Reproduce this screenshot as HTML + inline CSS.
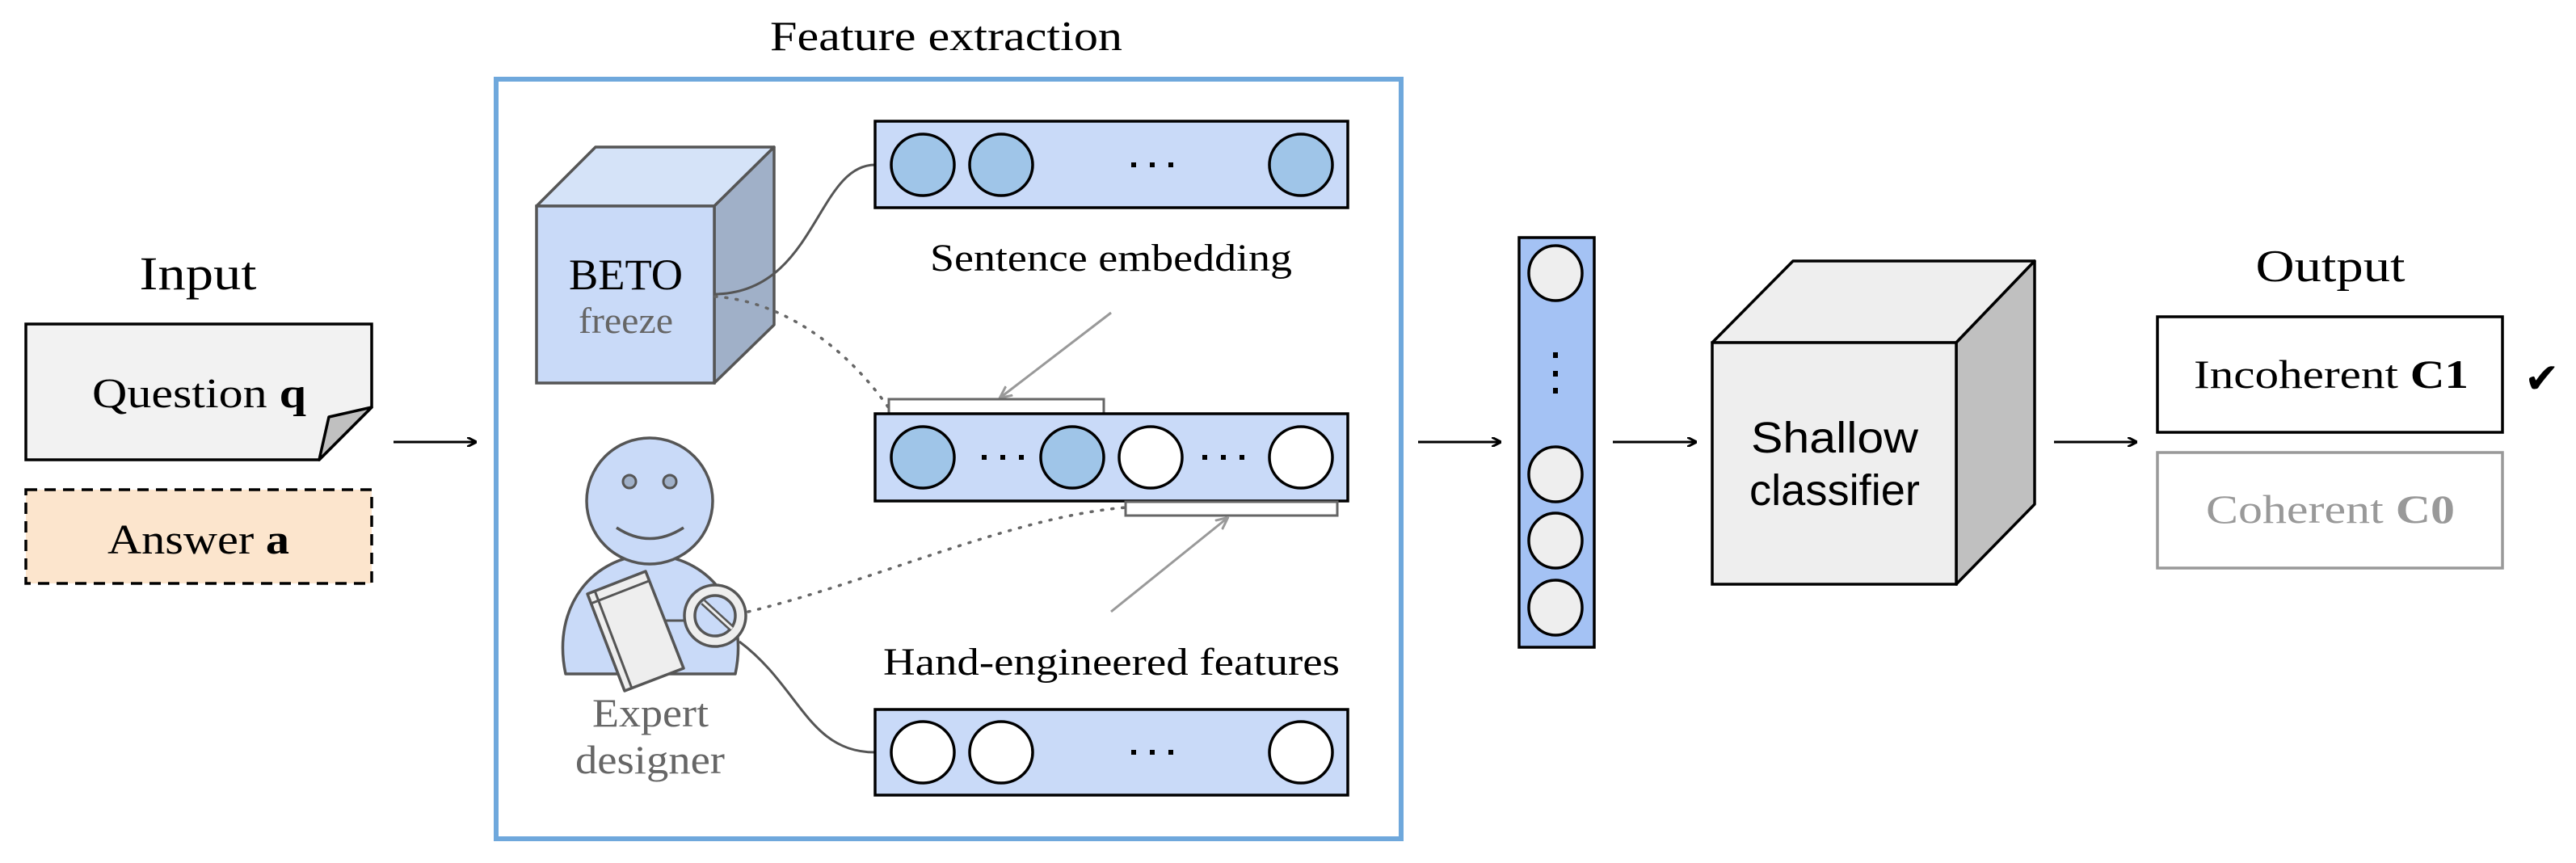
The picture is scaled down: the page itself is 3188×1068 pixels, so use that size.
<!DOCTYPE html>
<html><head><meta charset="utf-8"><style>
html,body{margin:0;padding:0;background:#fff;}
svg{display:block;}
text{font-family:"Liberation Serif",serif;}
</style></head><body>
<svg width="3188" height="1068" viewBox="0 0 3188 1068" xmlns="http://www.w3.org/2000/svg">
<defs>
<marker id="ah" markerWidth="12" markerHeight="12" refX="11" refY="6" orient="auto" markerUnits="userSpaceOnUse"><path d="M0,0 L12,6 L0,12" fill="none" stroke="#000" stroke-width="3"/></marker>
<marker id="ahg" markerWidth="16" markerHeight="16" refX="14" refY="8" orient="auto" markerUnits="userSpaceOnUse"><path d="M0,1 L15,8 L0,15" fill="none" stroke="#999" stroke-width="3"/></marker>
</defs>

<!-- Titles -->
<text x="1171" y="62" font-size="52" text-anchor="middle" textLength="436" lengthAdjust="spacingAndGlyphs">Feature extraction</text>
<text x="245" y="358" font-size="58" text-anchor="middle" textLength="145" lengthAdjust="spacingAndGlyphs">Input</text>
<text x="2884" y="348" font-size="56" text-anchor="middle" textLength="185" lengthAdjust="spacingAndGlyphs">Output</text>

<!-- Question -->
<path d="M32,401 L460,401 L460,504 L395,569 L32,569 Z" fill="#f2f2f2" stroke="#000" stroke-width="3.5"/>
<path d="M395,569 L407,516 L460,504 Z" fill="#c0c0c0" stroke="#000" stroke-width="3.5" stroke-linejoin="round"/>
<text x="114" y="504" font-size="52" textLength="265" lengthAdjust="spacingAndGlyphs">Question <tspan font-weight="bold">q</tspan></text>

<!-- Answer -->
<rect x="32" y="606" width="428" height="116" fill="#fce5cd" stroke="#000" stroke-width="3.5" stroke-dasharray="14,9"/>
<text x="133" y="685" font-size="52" textLength="225" lengthAdjust="spacingAndGlyphs">Answer <tspan font-weight="bold">a</tspan></text>

<!-- arrows -->
<line x1="487" y1="547" x2="589" y2="547" stroke="#000" stroke-width="3" marker-end="url(#ah)"/>
<line x1="1755" y1="547" x2="1857" y2="547" stroke="#000" stroke-width="3" marker-end="url(#ah)"/>
<line x1="1996" y1="547" x2="2099" y2="547" stroke="#000" stroke-width="3" marker-end="url(#ah)"/>
<line x1="2542" y1="547" x2="2644" y2="547" stroke="#000" stroke-width="3" marker-end="url(#ah)"/>

<!-- Feature box -->
<rect x="614" y="98" width="1120" height="940" fill="none" stroke="#6fa8dc" stroke-width="6"/>

<!-- BETO cube -->
<path d="M664,255 L737,182 L958,182 L884,255 Z" fill="#d5e3f8" stroke="#555" stroke-width="3.5" stroke-linejoin="round"/>
<path d="M884,255 L958,182 L958,402 L884,474 Z" fill="#a0b0c8" stroke="#555" stroke-width="3.5" stroke-linejoin="round"/>
<rect x="664" y="255" width="220" height="219" fill="#c9daf8" stroke="#555" stroke-width="3.5"/>
<text x="704" y="358" font-size="54" textLength="141" lengthAdjust="spacingAndGlyphs">BETO</text>
<text x="716" y="412" font-size="46" fill="#666" textLength="117" lengthAdjust="spacingAndGlyphs">freeze</text>

<!-- connectors -->
<path d="M885,364 C1010,362 1010,204 1083,204" fill="none" stroke="#555" stroke-width="3"/>
<path d="M885,367 C960,372 1040,420 1100,505" fill="none" stroke="#666" stroke-width="3.5" stroke-dasharray="2,11" stroke-linecap="round"/>
<path d="M926,757 C1080,720 1250,640 1393,628" fill="none" stroke="#666" stroke-width="3.5" stroke-dasharray="2,11" stroke-linecap="round"/>
<path d="M915,794 C990,850 1000,931 1083,931" fill="none" stroke="#555" stroke-width="3"/>

<!-- person -->
<path d="M700,834 C682,750 735,687 804,687 C875,687 928,750 910,834 Z" fill="#c9daf8" stroke="#555" stroke-width="3.5" stroke-linejoin="round"/>
<circle cx="804" cy="620" r="78" fill="#c9daf8" stroke="#555" stroke-width="3.5"/>
<circle cx="779" cy="596" r="8" fill="#a0b0c8" stroke="#555" stroke-width="3"/>
<circle cx="829" cy="596" r="8" fill="#a0b0c8" stroke="#555" stroke-width="3"/>
<path d="M763,653 Q804,680 846,653" fill="none" stroke="#555" stroke-width="3.5"/>
<path d="M727,735 L799,707 L846,827 L773,855 Z" fill="#eee" stroke="#555" stroke-width="3.5" stroke-linejoin="round"/>
<line x1="736" y1="731" x2="782" y2="852" stroke="#555" stroke-width="3"/>
<line x1="731" y1="747" x2="803" y2="719" stroke="#555" stroke-width="3"/>
<line x1="824" y1="768" x2="846" y2="768" stroke="#555" stroke-width="3"/>
<circle cx="885" cy="762" r="38" fill="#eee" stroke="#555" stroke-width="3.5"/>
<circle cx="885" cy="762" r="25" fill="#c9daf8" stroke="#555" stroke-width="3.5"/>
<line x1="870" y1="745" x2="906" y2="778" stroke="#555" stroke-width="8"/>
<line x1="870" y1="745" x2="906" y2="778" stroke="#eee" stroke-width="3"/>
<text x="733" y="899" font-size="50" fill="#666" textLength="144" lengthAdjust="spacingAndGlyphs">Expert</text>
<text x="712" y="957" font-size="50" fill="#666" textLength="185" lengthAdjust="spacingAndGlyphs">designer</text>

<!-- top bar -->
<rect x="1083" y="150" width="585" height="107" fill="#c9daf8" stroke="#000" stroke-width="3.5"/>
<ellipse cx="1142" cy="204" rx="39" ry="38" fill="#9fc5e8" stroke="#000" stroke-width="3.5"/>
<ellipse cx="1239" cy="204" rx="39" ry="38" fill="#9fc5e8" stroke="#000" stroke-width="3.5"/>
<ellipse cx="1610" cy="204" rx="39" ry="38" fill="#9fc5e8" stroke="#000" stroke-width="3.5"/>
<g fill="#000"><rect x="1400" y="201" width="6" height="6"/><rect x="1423" y="201" width="6" height="6"/><rect x="1446" y="201" width="6" height="6"/></g>

<text x="1151" y="335" font-size="48" textLength="448" lengthAdjust="spacingAndGlyphs">Sentence embedding</text>

<line x1="1375" y1="387" x2="1238" y2="492" stroke="#999" stroke-width="3" marker-end="url(#ahg)"/>
<rect x="1100" y="494" width="266" height="18" fill="#fff" stroke="#666" stroke-width="3"/>

<!-- middle bar -->
<rect x="1083" y="512" width="585" height="108" fill="#c9daf8" stroke="#000" stroke-width="3.5"/>
<ellipse cx="1142" cy="566" rx="39" ry="38" fill="#9fc5e8" stroke="#000" stroke-width="3.5"/>
<ellipse cx="1327" cy="566" rx="39" ry="38" fill="#9fc5e8" stroke="#000" stroke-width="3.5"/>
<ellipse cx="1424" cy="566" rx="39" ry="38" fill="#fff" stroke="#000" stroke-width="3.5"/>
<ellipse cx="1610" cy="566" rx="39" ry="38" fill="#fff" stroke="#000" stroke-width="3.5"/>
<g fill="#000"><rect x="1215" y="563" width="6" height="6"/><rect x="1238" y="563" width="6" height="6"/><rect x="1261" y="563" width="6" height="6"/>
<rect x="1488" y="563" width="6" height="6"/><rect x="1511" y="563" width="6" height="6"/><rect x="1534" y="563" width="6" height="6"/></g>
<rect x="1393" y="621" width="262" height="17" fill="#fff" stroke="#666" stroke-width="3"/>
<line x1="1375" y1="757" x2="1519" y2="641" stroke="#999" stroke-width="3" marker-end="url(#ahg)"/>

<text x="1093" y="835" font-size="48" textLength="565" lengthAdjust="spacingAndGlyphs">Hand-engineered features</text>

<!-- bottom bar -->
<rect x="1083" y="878" width="585" height="106" fill="#c9daf8" stroke="#000" stroke-width="3.5"/>
<ellipse cx="1142" cy="931" rx="39" ry="38" fill="#fff" stroke="#000" stroke-width="3.5"/>
<ellipse cx="1239" cy="931" rx="39" ry="38" fill="#fff" stroke="#000" stroke-width="3.5"/>
<ellipse cx="1610" cy="931" rx="39" ry="38" fill="#fff" stroke="#000" stroke-width="3.5"/>
<g fill="#000"><rect x="1400" y="928" width="6" height="6"/><rect x="1423" y="928" width="6" height="6"/><rect x="1446" y="928" width="6" height="6"/></g>

<!-- vector column -->
<rect x="1880" y="294" width="93" height="507" fill="#a4c2f4" stroke="#000" stroke-width="3.5"/>
<ellipse cx="1925" cy="338" rx="33" ry="34" fill="#eee" stroke="#000" stroke-width="3.5"/>
<ellipse cx="1925" cy="587" rx="33" ry="34" fill="#eee" stroke="#000" stroke-width="3.5"/>
<ellipse cx="1925" cy="669" rx="33" ry="34" fill="#eee" stroke="#000" stroke-width="3.5"/>
<ellipse cx="1925" cy="752" rx="33" ry="34" fill="#eee" stroke="#000" stroke-width="3.5"/>
<g fill="#000"><rect x="1922" y="436" width="6" height="7"/><rect x="1922" y="459" width="6" height="7"/><rect x="1922" y="480" width="6" height="7"/></g>

<!-- shallow cube -->
<path d="M2119,424 L2219,323 L2518,323 L2421,424 Z" fill="#eee" stroke="#000" stroke-width="3.5" stroke-linejoin="round"/>
<path d="M2421,424 L2518,323 L2518,624 L2421,723 Z" fill="#c0c0c0" stroke="#000" stroke-width="3.5" stroke-linejoin="round"/>
<rect x="2119" y="424" width="302" height="299" fill="#eee" stroke="#000" stroke-width="3.5"/>
<text x="2167" y="560" font-size="54" textLength="207" lengthAdjust="spacingAndGlyphs" style="font-family:'Liberation Sans',sans-serif">Shallow</text>
<text x="2165" y="625" font-size="54" textLength="211" lengthAdjust="spacingAndGlyphs" style="font-family:'Liberation Sans',sans-serif">classifier</text>

<!-- outputs -->
<rect x="2670" y="392" width="427" height="143" fill="#fff" stroke="#000" stroke-width="3.5"/>
<text x="2715" y="480" font-size="50" textLength="340" lengthAdjust="spacingAndGlyphs">Incoherent <tspan font-weight="bold">C1</tspan></text>
<text x="3124" y="486" font-size="52">✔</text>
<rect x="2670" y="560" width="427" height="143" fill="#fff" stroke="#999" stroke-width="3.5"/>
<text x="2730" y="647" font-size="50" fill="#999" textLength="308" lengthAdjust="spacingAndGlyphs">Coherent <tspan font-weight="bold">C0</tspan></text>
</svg>
</body></html>
